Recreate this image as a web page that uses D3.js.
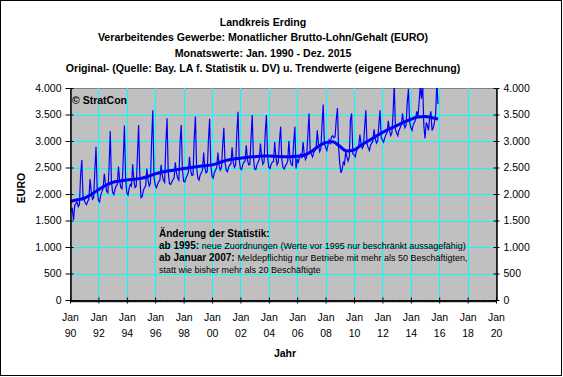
<!DOCTYPE html>
<html>
<head>
<meta charset="utf-8">
<script src="https://cdn.jsdelivr.net/npm/d3@7"></script>
<style>
	body { margin: 0; background: #fff; }
	text { font-family: Arial, "Liberation Sans", sans-serif; }
</style>
</head>
<body>
<div id="wrapper"></div>
<script>
const titleLines = [
	'Landkreis Erding',
	'Verarbeitendes Gewerbe: Monatlicher Brutto-Lohn/Gehalt (EURO)',
	'Monatswerte: Jan. 1990 - Dez. 2015',
	'Original- (Quelle: Bay. LA f. Statistik u. DV) u. Trendwerte (eigene Berechnung)'
];

const firstYear = 1990;

// monthly values Jan..Dec, one row per year 1990-2015
const rawValues = [
	[ 1750, 1690, 1720, 1510, 1780, 1820, 1850, 1760, 1800, 2360, 2640, 1960 ],
	[ 1880, 1830, 1800, 1860, 1900, 2280, 2050, 1900, 1930, 2420, 2890, 2100 ],
	[ 1880, 1850, 1980, 2050, 2100, 2380, 2200, 2050, 2020, 2480, 3190, 2250 ],
	[ 2030, 1990, 2080, 2150, 2180, 2520, 2250, 2120, 2100, 2650, 3290, 2300 ],
	[ 2020, 1980, 2100, 2180, 2150, 2560, 2260, 2120, 2150, 2720, 3300, 2350 ],
	[ 1930, 1950, 2060, 2120, 2150, 2480, 2260, 2150, 2200, 3000, 3580, 2320 ],
	[ 2170, 2120, 2180, 2230, 2260, 2550, 2350, 2260, 2220, 2950, 3430, 2420 ],
	[ 2200, 2180, 2220, 2270, 2300, 2600, 2400, 2300, 2260, 2950, 3300, 2460 ],
	[ 2240, 2230, 2300, 2350, 2400, 2700, 2450, 2350, 2360, 3050, 3460, 2520 ],
	[ 2300, 2260, 2350, 2400, 2450, 2780, 2500, 2400, 2420, 3000, 3420, 2560 ],
	[ 2330, 2300, 2400, 2450, 2500, 2780, 2550, 2450, 2500, 2900, 3250, 2600 ],
	[ 2450, 2420, 2500, 2550, 2560, 2880, 2600, 2500, 2550, 3150, 3550, 2650 ],
	[ 2480, 2460, 2550, 2600, 2620, 2920, 2650, 2550, 2560, 3050, 3490, 2700 ],
	[ 2470, 2460, 2550, 2600, 2650, 2950, 2700, 2560, 2600, 3150, 3490, 2700 ],
	[ 2500, 2480, 2560, 2600, 2610, 2980, 2700, 2550, 2600, 3000, 3270, 2650 ],
	[ 2500, 2470, 2530, 2560, 2620, 3000, 2650, 2560, 2540, 2950, 3270, 2480 ],
	[ 2650, 2600, 2700, 2750, 2680, 2980, 2750, 2650, 2700, 3100, 3520, 2800 ],
	[ 2750, 2700, 2780, 2820, 2850, 3200, 2950, 2800, 2850, 3300, 3690, 2950 ],
	[ 2880, 2820, 2920, 3020, 2960, 3080, 3100, 3060, 3080, 3400, 3620, 2880 ],
	[ 2560, 2400, 2460, 2600, 2560, 2800, 2700, 2620, 2700, 3400, 3520, 2760 ],
	[ 2740, 2700, 2800, 2850, 2900, 3120, 2950, 2860, 2900, 3250, 3580, 2950 ],
	[ 2870, 2820, 2920, 2960, 3000, 3220, 3050, 2960, 3000, 3300, 3580, 3060 ],
	[ 3020, 2980, 3060, 3120, 3160, 3380, 3200, 3100, 3150, 3520, 4080, 3220 ],
	[ 3150, 3100, 3200, 3250, 3300, 3520, 3350, 3250, 3300, 3720, 3980, 3360 ],
	[ 3250, 3200, 3300, 3350, 3400, 3560, 3450, 3720, 4050, 3800, 4100, 3300 ],
	[ 3050, 3350, 3300, 3200, 3450, 3560, 3200, 3250, 3350, 3500, 4100, 3700 ]
];

// trend, read at half-year steps
const trendDates = [
	'1990-01', '1990-07', '1991-01', '1991-07', '1992-01', '1992-07', '1993-01', '1993-07',
	'1994-01', '1994-07', '1995-01', '1995-07', '1996-01', '1996-07', '1997-01', '1997-07',
	'1998-01', '1998-07', '1999-01', '1999-07', '2000-01', '2000-07', '2001-01', '2001-07',
	'2002-01', '2002-07', '2003-01', '2003-07', '2004-01', '2004-07', '2005-01', '2005-07',
	'2006-01', '2006-07', '2007-01', '2007-07', '2008-01', '2008-07', '2009-01', '2009-07',
	'2010-01', '2010-07', '2011-01', '2011-07', '2012-01', '2012-07', '2013-01', '2013-07',
	'2014-01', '2014-07', '2015-01', '2015-07', '2015-12'
];
const trendValues = [
	1860, 1890, 1920, 1990, 2080, 2160, 2220, 2245,
	2265, 2280, 2295, 2330, 2380, 2415, 2440, 2460,
	2480, 2500, 2520, 2535, 2550, 2590, 2635, 2660,
	2675, 2695, 2705, 2715, 2715, 2710, 2705, 2705,
	2710, 2730, 2800, 2900, 2970, 2985, 2900, 2810,
	2830, 2920, 3000, 3080, 3160, 3230, 3290, 3350,
	3410, 3455, 3460, 3440, 3415
];

const yTicks = [ 0, 500, 1000, 1500, 2000, 2500, 3000, 3500, 4000 ];
const xTickYears = [ 1990, 1992, 1994, 1996, 1998, 2000, 2002, 2004, 2006, 2008, 2010, 2012, 2014, 2016, 2018, 2020 ];

const noteLines = [
	[ { t: 'Änderung der Statistik:', b: true } ],
	[ { t: 'ab 1995: ', b: true }, { t: ' neue Zuordnungen (Werte vor 1995 nur beschränkt aussagefähig)', b: false } ],
	[ { t: 'ab Januar 2007: ', b: true }, { t: 'Meldepflichtig nur Betriebe mit mehr als 50 Beschäftigten,', b: false } ],
	[ { t: 'statt wie bisher mehr als  20 Beschäftigte', b: false } ]
];

const dims = { width: 563, height: 377, left: 70, right: 496, top: 88, bottom: 300 };

const de = d3.formatLocale({ decimal: ',', thousands: '.', grouping: [ 3 ], currency: [ '', '€' ] });
const fmt = de.format(',d');
const parseMonth = d3.timeParse('%Y-%m');

const raw = [];
rawValues.forEach((row, i) => {
	row.forEach((v, m) => raw.push({ date: new Date(firstYear + i, m, 1), value: v }));
});
const trend = trendDates.map((d, i) => ({ date: parseMonth(d), value: trendValues[i] }));

const x = d3.scaleTime()
	.domain([ new Date(1990, 0, 1), new Date(2020, 0, 1) ])
	.range([ dims.left, dims.right ]);
const y = d3.scaleLinear()
	.domain([ 0, 4000 ])
	.range([ dims.bottom, dims.top ]);

const svg = d3.select('#wrapper').append('svg')
	.attr('width', dims.width)
	.attr('height', dims.height);

svg.append('rect')
	.attr('x', 0.5).attr('y', 0.5)
	.attr('width', dims.width - 2).attr('height', dims.height - 2)
	.attr('fill', '#fff').attr('stroke', '#000');

// title
svg.append('g').selectAll('text')
	.data(titleLines)
	.join('text')
	.attr('x', 263)
	.attr('y', (d, i) => 26 + i * 15.4)
	.attr('text-anchor', 'middle')
	.attr('font-size', 10.6)
	.attr('font-weight', 'bold')
	.text((d) => d);

// plot area
svg.append('rect')
	.attr('x', dims.left + 0.5).attr('y', dims.top + 0.5)
	.attr('width', dims.right - dims.left).attr('height', dims.bottom - dims.top)
	.attr('fill', '#c0c0c0').attr('stroke', '#808080');

const grid = svg.append('g').attr('stroke', '#00ffff').attr('shape-rendering', 'crispEdges');
grid.selectAll('.h')
	.data(yTicks.filter((d) => d > 0 && d < 4000))
	.join('line')
	.attr('x1', dims.left).attr('x2', dims.right)
	.attr('y1', (d) => Math.round(y(d)) + 0.5).attr('y2', (d) => Math.round(y(d)) + 0.5);
grid.selectAll('.v')
	.data(xTickYears.filter((d) => d > 1990 && d < 2020))
	.join('line')
	.attr('x1', (d) => Math.round(x(new Date(d, 0, 1))) + 0.5)
	.attr('x2', (d) => Math.round(x(new Date(d, 0, 1))) + 0.5)
	.attr('y1', dims.top).attr('y2', dims.bottom);

// notes
const notes = svg.append('g');
noteLines.forEach((line, i) => {
	const t = notes.append('text')
		.attr('x', 159)
		.attr('y', 237 + i * 12)
		.attr('font-size', i === 0 ? 10 : 9);
	line.forEach((part) => {
		t.append('tspan')
			.attr('font-weight', part.b ? 'bold' : 'normal')
			.attr('font-size', part.b ? 10 : 9)
			.text(part.t);
	});
});

svg.append('defs').append('clipPath').attr('id', 'clip')
	.append('rect')
	.attr('x', dims.left).attr('y', dims.top)
	.attr('width', dims.right - dims.left).attr('height', dims.bottom - dims.top);

const lines = svg.append('g').attr('clip-path', 'url(#clip)');

lines.append('path')
	.datum(raw)
	.attr('fill', 'none')
	.attr('stroke', '#0000ff')
	.attr('stroke-width', 1.2)
	.attr('d', d3.line().x((d) => x(d.date)).y((d) => y(d.value)));

lines.append('path')
	.datum(trend)
	.attr('fill', 'none')
	.attr('stroke', '#0000ff')
	.attr('stroke-width', 3)
	.attr('d', d3.line().curve(d3.curveMonotoneX).x((d) => x(d.date)).y((d) => y(d.value)));

svg.append('text')
	.attr('x', 72).attr('y', 104)
	.attr('font-size', 10.5).attr('font-weight', 'bold')
	.text('© StratCon');

// axes
const axisStyle = (g) => {
	g.attr('font-size', 10.5).attr('font-family', 'Arial, "Liberation Sans", sans-serif');
	g.selectAll('.domain').attr('stroke', '#000');
	g.selectAll('.tick line').attr('stroke', '#000');
	g.selectAll('.tick text').attr('fill', '#000');
};

svg.append('g')
	.attr('transform', `translate(${dims.left + 0.5},0)`)
	.call(d3.axisLeft(y).tickValues(yTicks).tickSize(5).tickSizeOuter(0).tickPadding(4).tickFormat(fmt))
	.call(axisStyle);
svg.append('g')
	.attr('transform', `translate(${dims.left + 0.5},0)`)
	.call(d3.axisLeft(y).tickValues(yTicks).tickSize(-3).tickSizeOuter(0).tickFormat(''))
	.call(axisStyle);

svg.append('g')
	.attr('transform', `translate(${dims.right + 0.5},0)`)
	.call(d3.axisRight(y).tickValues(yTicks).tickSize(3).tickSizeOuter(0).tickPadding(4).tickFormat(fmt))
	.call(axisStyle);
svg.append('g')
	.attr('transform', `translate(${dims.right + 0.5},0)`)
	.call(d3.axisRight(y).tickValues(yTicks).tickSize(-3).tickSizeOuter(0).tickFormat(''))
	.call(axisStyle);

// monthly minor ticks
svg.append('g')
	.attr('transform', `translate(0,${dims.bottom + 0.5})`)
	.call(d3.axisBottom(x).ticks(d3.timeMonth.every(1)).tickSize(2).tickSizeOuter(0).tickFormat(''))
	.call(axisStyle)
	.selectAll('.tick line').attr('stroke-width', 0.5);

const xAxis = svg.append('g')
	.attr('transform', `translate(0,${dims.bottom + 0.5})`)
	.call(d3.axisBottom(x).tickValues(xTickYears.map((d) => new Date(d, 0, 1))).tickSize(3).tickSizeOuter(0))
	.call(axisStyle);
svg.append('g')
	.attr('transform', `translate(0,${dims.bottom + 0.5})`)
	.call(d3.axisBottom(x).tickValues(xTickYears.map((d) => new Date(d, 0, 1))).tickSize(-3).tickSizeOuter(0).tickFormat(''))
	.call(axisStyle);

xAxis.selectAll('.tick text').each(function(d) {
	const t = d3.select(this).text(null).attr('y', 0).attr('dy', null);
	t.append('tspan').attr('x', 0).attr('y', 20).text('Jan');
	t.append('tspan').attr('x', 0).attr('y', 36).text(d3.timeFormat('%y')(d));
});

svg.append('text')
	.attr('x', 285).attr('y', 357)
	.attr('text-anchor', 'middle')
	.attr('font-size', 10.5).attr('font-weight', 'bold')
	.text('Jahr');

svg.append('text')
	.attr('transform', 'translate(25,188) rotate(-90)')
	.attr('text-anchor', 'middle')
	.attr('font-size', 10.5).attr('font-weight', 'bold')
	.text('EURO');
</script>
</body>
</html>
